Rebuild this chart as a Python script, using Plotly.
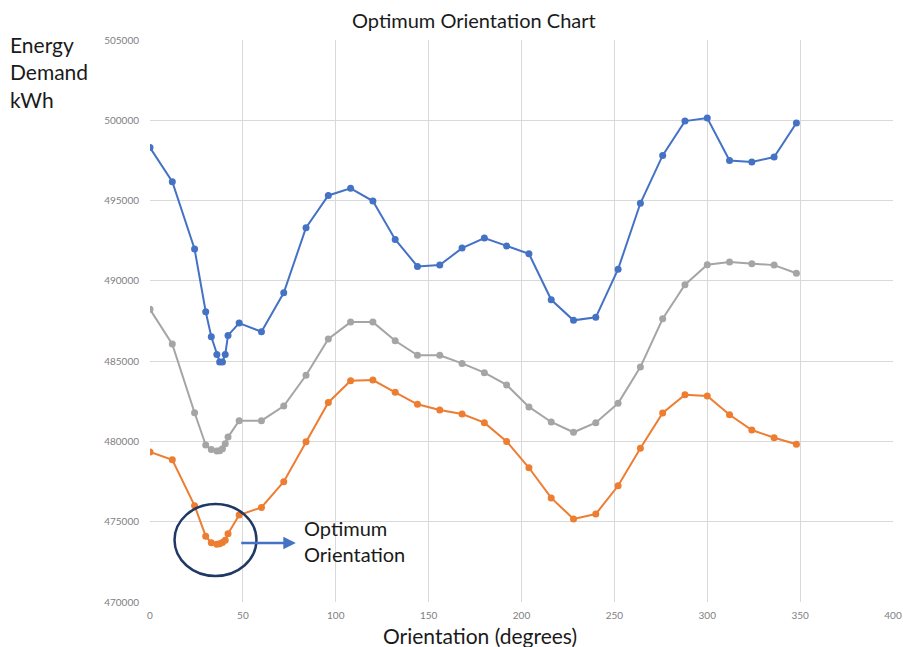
import plotly.graph_objects as go

orientation = [0, 12, 24, 30, 33, 36, 37.5, 39, 40.5, 42, 48, 60, 72, 84, 96, 108, 120, 132, 144,
               156, 168, 180, 192, 204, 216, 228, 240, 252, 264, 276, 288, 300, 312, 324, 336, 348]

blue_series = [498300, 496170, 491980, 488080, 486520, 485420, 484950, 484950, 485420, 486600, 487370,
               486830, 489260, 493310, 495320, 495760, 494970, 492580, 490900,
               490980, 492040, 492670, 492170, 491690, 488820, 487540, 487730, 490730, 494830,
               497810, 499950, 500140, 497500, 497400, 497710, 499830]

gray_series = [488230, 486060, 481790, 479780, 479500, 479400, 479420, 479550, 479850, 480270, 481290,
               481290, 482200, 484120, 486380, 487430, 487430, 486270, 485360,
               485360, 484860, 484280, 483520, 482150, 481210, 480570, 481170, 482370, 484630,
               487640, 489760, 491000, 491170, 491070, 490980, 490470]

orange_series = [479340, 478860, 476000, 474100, 473690, 473600, 473620, 473700, 473850, 474250, 475420,
                 475890, 477490, 479980, 482430, 483780, 483820, 483060, 482310,
                 481960, 481710, 481170, 480000, 478360, 476480, 475170, 475480, 477240, 479570,
                 481770, 482910, 482830, 481660, 480710, 480230, 479820]

x_ticks = [0, 50, 100, 150, 200, 250, 300, 350, 400]
y_ticks = [470000, 475000, 480000, 485000, 490000, 495000, 500000, 505000]

series = [("Series 1", blue_series, "#4472C4"),
          ("Series 2", gray_series, "#A5A5A5"),
          ("Series 3", orange_series, "#ED7D31")]

fig = go.Figure()
for name, vals, col in series:
    fig.add_trace(go.Scatter(
        x=orientation, y=vals, mode="lines+markers", name=name,
        line=dict(color=col, width=2),
        marker=dict(color=col, size=7),
        showlegend=False,
    ))

font_main = "Lato, 'Open Sans', sans-serif"

fig.update_layout(
    width=903, height=647,
    margin=dict(l=150, r=10, t=40, b=45, autoexpand=False),
    paper_bgcolor="white", plot_bgcolor="white",
    xaxis=dict(range=[0, 400], tickvals=x_ticks, showgrid=True, gridcolor="#D9D9D9", gridwidth=1,
               zeroline=False, showline=False, ticks="", automargin=False, ticklabelstandoff=6,
               tickfont=dict(family=font_main, size=10, color="#808080")),
    yaxis=dict(range=[470000, 505000], tickvals=y_ticks, tickformat="d", showgrid=True,
               gridcolor="#D9D9D9", gridwidth=1, zeroline=False, showline=False, ticks="",
               ticklabelstandoff=10, automargin=False,
               tickfont=dict(family=font_main, size=10, color="#808080")),
)

# Chart title
fig.add_annotation(text="Optimum Orientation Chart", xref="paper", yref="paper",
                   x=(474 - 150) / 743, y=(647 - 45 - 20) / 562, xanchor="center", yanchor="middle",
                   showarrow=False, font=dict(family=font_main, size=20, color="#1a1a1a"))

# X-axis title
fig.add_annotation(text="Orientation (degrees)", xref="paper", yref="paper",
                   x=(480 - 150) / 743, y=(647 - 45 - 635) / 562, xanchor="center", yanchor="middle",
                   showarrow=False, font=dict(family=font_main, size=21, color="#1a1a1a"))

# Y-axis title block at top-left
fig.add_annotation(text="Energy<br>Demand<br>kWh", xref="paper", yref="paper",
                   x=(8 - 150) / 743, y=(647 - 45 - 30) / 562, xanchor="left", yanchor="top",
                   showarrow=False, align="left",
                   font=dict(family=font_main, size=21, color="#1a1a1a"))

# Optimum ellipse
fig.add_shape(type="circle", xref="x", yref="y", x0=13.2, x1=57.3, y0=471620, y1=476100,
              line=dict(color="#203864", width=2.5))

# Arrow
fig.add_annotation(x=78.5, y=473680, ax=48.3, ay=473680, xref="x", yref="y", axref="x", ayref="y",
                   text="", showarrow=True, arrowhead=2, arrowsize=1, arrowwidth=2.5,
                   arrowcolor="#4472C4")

fig.add_annotation(text="Optimum<br>Orientation", xref="x", yref="y", x=82, y=473800,
                   xanchor="left", yanchor="middle", showarrow=False, align="left",
                   font=dict(family=font_main, size=20, color="#1a1a1a"))

fig.write_html("out.html", config={"displayModeBar": False},
               post_script="document.body.style.margin='0';")
